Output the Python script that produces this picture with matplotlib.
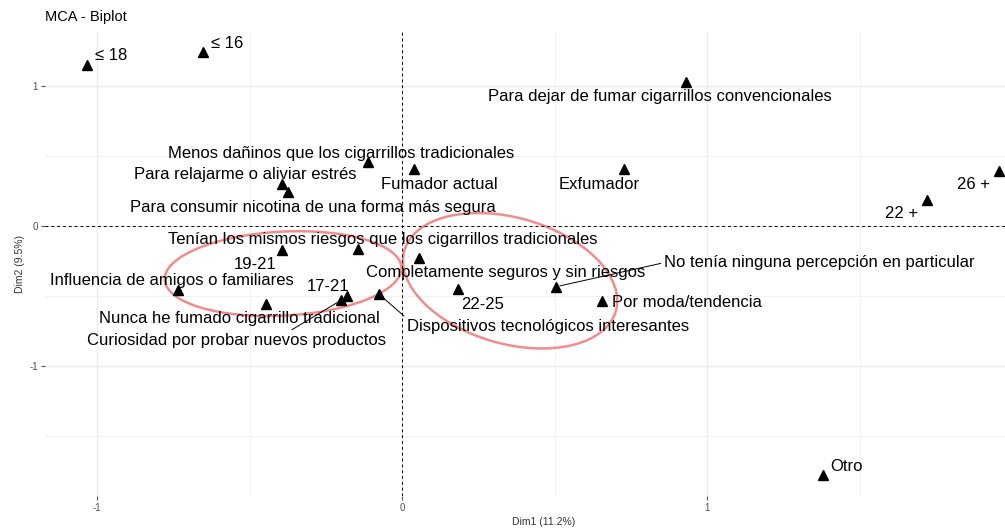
import matplotlib.pyplot as plt
from matplotlib.patches import Ellipse
from matplotlib.transforms import ScaledTranslation

plt.rcParams['font.family'] = ['Liberation Sans', 'DejaVu Sans']
plt.rcParams['axes.unicode_minus'] = False

# Coordenadas de las categorías (MCA)
categorias = [
    "≤ 18", "≤ 16", "Para dejar de fumar cigarrillos convencionales",
    "Menos dañinos que los cigarrillos tradicionales", "Fumador actual", "Exfumador",
    "Para relajarme o aliviar estrés", "Para consumir nicotina de una forma más segura",
    "26 +", "22 +", "Tenían los mismos riesgos que los cigarrillos tradicionales",
    "19-21", "Completamente seguros y sin riesgos", "Influencia de amigos o familiares",
    "Nunca he fumado cigarrillo tradicional", "17-21", "Curiosidad por probar nuevos productos",
    "Dispositivos tecnológicos interesantes", "22-25",
    "No tenía ninguna percepción en particular", "Por moda/tendencia", "Otro",
]
dim1 = [-1.032, -0.651, 0.931, -0.111, 0.038, 0.728, -0.395, -0.375, 1.956, 1.720, -0.145,
        -0.392, 0.054, -0.733, -0.447, -0.182, -0.199, -0.076, 0.182, 0.504, 0.655, 1.378]
dim2 = [1.153, 1.246, 1.031, 0.456, 0.406, 0.406, 0.298, 0.241, 0.392, 0.183, -0.162,
        -0.169, -0.233, -0.456, -0.557, -0.500, -0.530, -0.487, -0.451, -0.435, -0.540, -1.778]

# desplazamiento de cada etiqueta respecto a su punto (pixeles)
desp = [(24, 9), (24, 8), (-26, -15), (-27, 9), (26, -15), (-25, -15), (-36, 10), (25, -15),
        (-26, -13), (-25, -13), (25, 9), (-27, -15), (87, -14), (-7, 9), (-26, -15), (-18, 9),
        (-105, -40), (169, -32), (25, -15), (263, 24), (85, -1), (24, 8)]
# etiquetas con segmento -> punto de salida en la caja del texto
segmentos = {16: (0.67, 1.0), 17: (0.0, 1.0), 19: (0.0, 0.5)}

# elipses (centro en datos, semiejes en px, angulo)
elipses = [((-0.390, -0.341), 118.5, 42, 3), ((0.354, -0.392), 110, 63, -16)]

fig = plt.figure(figsize=(10.05, 5.29), dpi=100)
ax = fig.add_axes([0.0448, 0.0624, 0.993, 0.877])
ax.set_xlim(-1.17, 2.10)
ax.set_ylim(-1.93, 1.385)

ax.set_xticks([-1, 0, 1])
ax.set_yticks([-1, 0, 1])
ax.set_xticks([-0.5, 0.5, 1.5, 2.0], minor=True)
ax.set_yticks([-1.5, -0.5, 0.5], minor=True)
ax.grid(True, which='major', color='#ebebeb', lw=0.9)
ax.grid(True, which='minor', color='#f2f2f2', lw=0.7)
ax.set_axisbelow(True)
for s in ax.spines.values():
    s.set_visible(False)
ax.tick_params(which='major', length=3, width=0.8, color='#555555', labelsize=7,
               labelcolor='#4d4d4d', pad=2)
ax.tick_params(which='minor', length=0)

ax.axhline(0, color='black', ls=(0, (3, 3)), lw=0.7)
ax.axvline(0, color='black', ls=(0, (3, 3)), lw=0.7)

ax.plot(dim1, dim2, '^', color='black', markersize=6.5, ls='none')

for i, lab in enumerate(categorias):
    if i in segmentos:
        ax.annotate(lab, (dim1[i], dim2[i]), xytext=desp[i], textcoords='offset pixels',
                    ha='center', va='center', fontsize=12,
                    arrowprops=dict(arrowstyle='-', color='black', lw=0.7,
                                    relpos=segmentos[i], shrinkA=0, shrinkB=3))
    else:
        ax.annotate(lab, (dim1[i], dim2[i]), xytext=desp[i], textcoords='offset pixels',
                    ha='center', va='center', fontsize=12)

for (cx, cy), a, b, ang in elipses:
    e = Ellipse((0, 0), 2 * a / 100, 2 * b / 100, angle=ang, fill=False,
                edgecolor='#ef7070', lw=1.8, alpha=0.8,
                transform=fig.dpi_scale_trans + ScaledTranslation(cx, cy, ax.transData))
    ax.add_patch(e)

ax.set_xlabel("Dim1 (11.2%)", fontsize=7.5, color='#333333', labelpad=3)
ax.set_ylabel("Dim2 (9.5%)", fontsize=7.5, color='#333333', labelpad=3)
ax.set_title("MCA - Biplot", loc='left', fontsize=10.5, pad=8)

fig.savefig("out.png", dpi=100)
